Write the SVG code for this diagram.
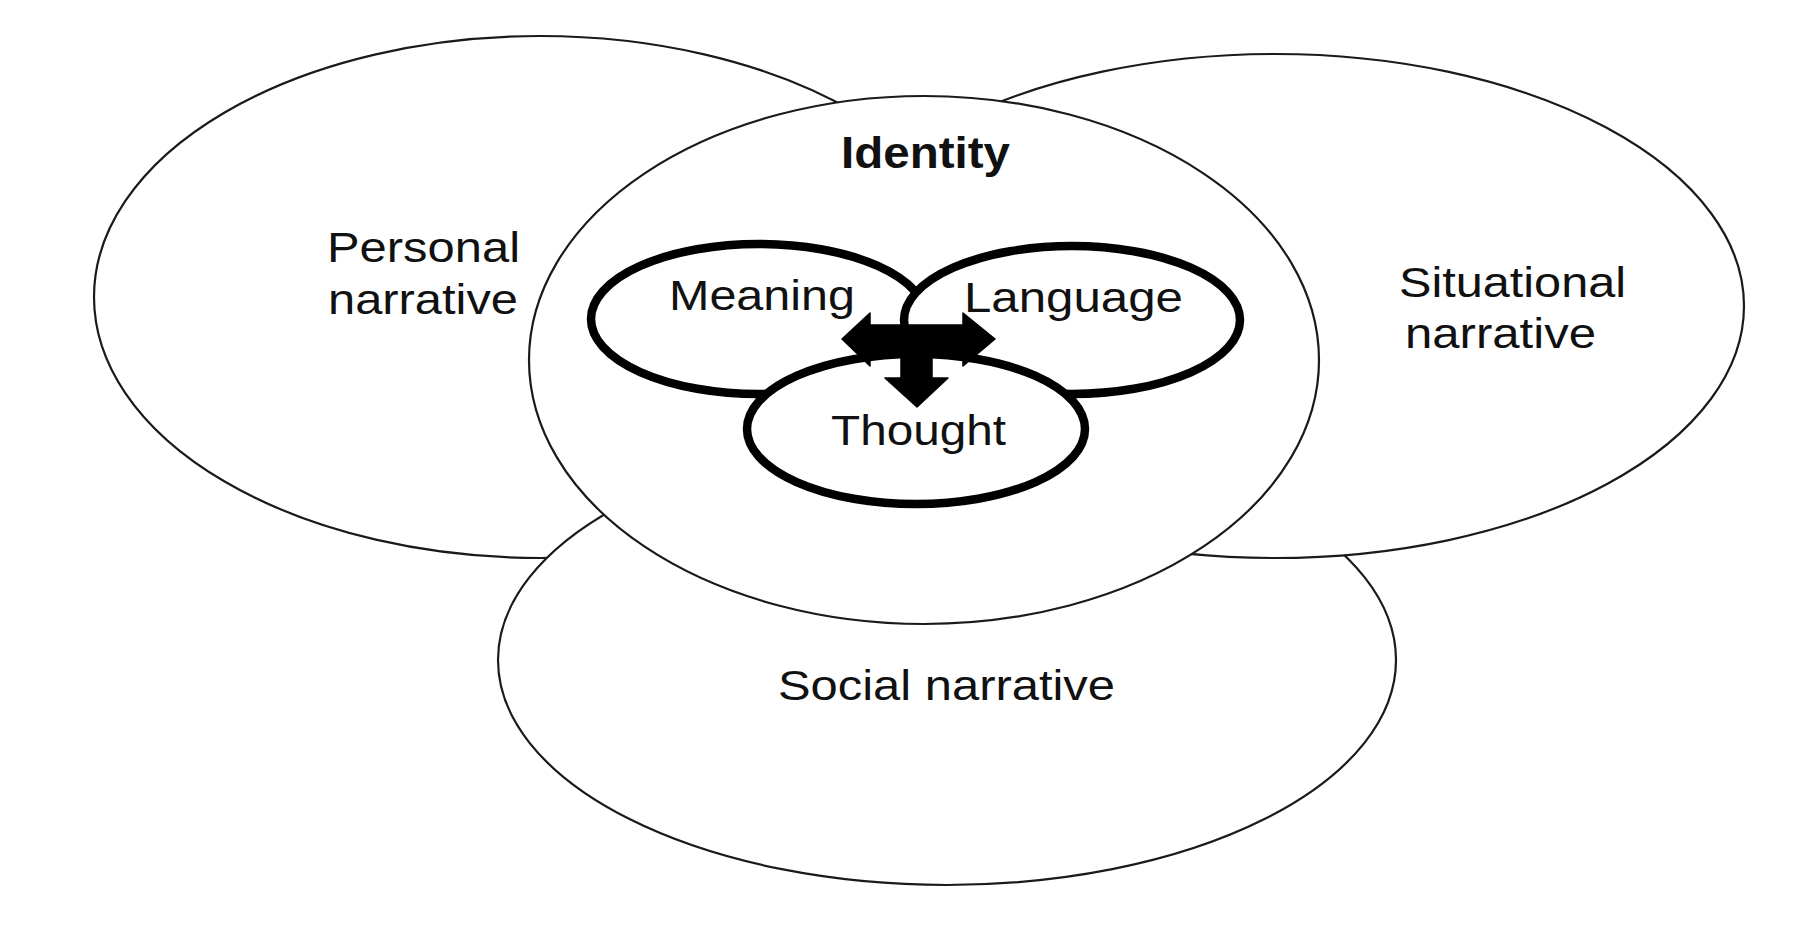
<svg xmlns="http://www.w3.org/2000/svg" width="1800" height="950" viewBox="0 0 1800 950">
<style>
.outer{fill:#fff;stroke:#1a1a1a;stroke-width:2.2}
.inner{fill:#fff;stroke:#000;stroke-width:8.5}
.lbl{font-family:"Liberation Sans",Arial,sans-serif;font-size:42px;fill:#111}
.bold{font-weight:bold;font-size:44px}
.arrow{fill:#000;stroke:#000;stroke-width:1.5;stroke-linejoin:round}
</style>
<rect width="1800" height="950" fill="#fff"/>
<g id="personal">
<ellipse class="outer" cx="540" cy="297" rx="446" ry="261"/>
<text class="lbl" x="327" y="262" textLength="193" lengthAdjust="spacingAndGlyphs">Personal</text>
<text class="lbl" x="328" y="314" textLength="190" lengthAdjust="spacingAndGlyphs">narrative</text>
</g>
<g id="social">
<ellipse class="outer" cx="947" cy="660" rx="449" ry="225"/>
<text class="lbl" x="778" y="700" textLength="337" lengthAdjust="spacingAndGlyphs">Social narrative</text>
</g>
<g id="situational">
<ellipse class="outer" cx="1275" cy="306" rx="469" ry="252"/>
<text class="lbl" x="1399" y="297" textLength="227" lengthAdjust="spacingAndGlyphs">Situational</text>
<text class="lbl" x="1405" y="348" textLength="191" lengthAdjust="spacingAndGlyphs">narrative</text>
</g>
<g id="identity">
<ellipse class="outer" cx="924" cy="360" rx="395" ry="264"/>
<text class="lbl bold" x="841" y="168" textLength="169" lengthAdjust="spacingAndGlyphs">Identity</text>
</g>
<g id="meaning">
<ellipse class="inner" cx="759" cy="319" rx="168" ry="75"/>
<text class="lbl" x="669" y="310" textLength="186" lengthAdjust="spacingAndGlyphs">Meaning</text>
</g>
<g id="language">
<ellipse class="inner" cx="1072" cy="320" rx="168" ry="74"/>
<text class="lbl" x="964" y="312" textLength="219" lengthAdjust="spacingAndGlyphs">Language</text>
</g>
<g id="thought">
<ellipse class="inner" cx="916" cy="429" rx="169" ry="75"/>
<text class="lbl" x="831" y="445" textLength="175" lengthAdjust="spacingAndGlyphs">Thought</text>
</g>
<g id="connectors">
<polygon class="arrow" points="842,339 870,313 870,325 963,325 963,313 995,339 963,366 963,353 870,353 870,366"/>
<polygon class="arrow" points="901,350 932,350 932,378 948,378 917,407 885,378 901,378"/>
</g>
</svg>
